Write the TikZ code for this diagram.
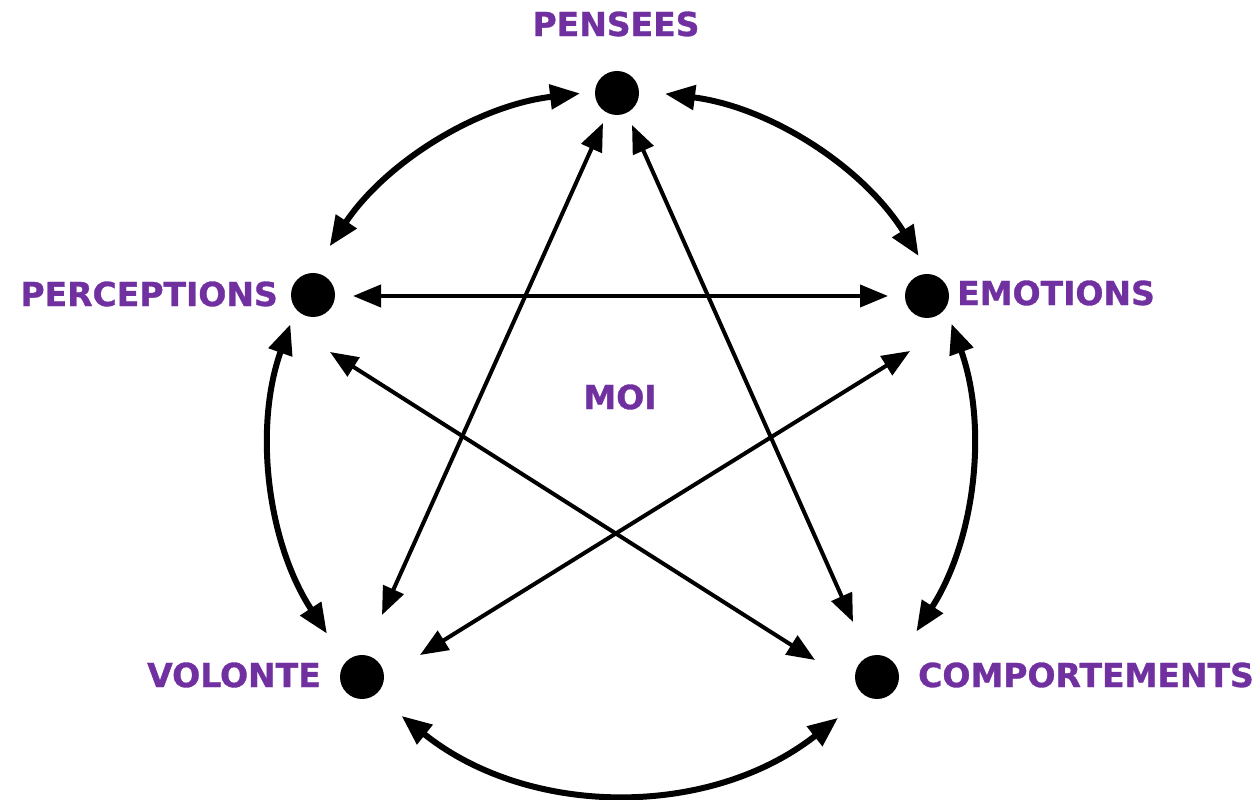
\documentclass[tikz,border=0pt]{standalone}
\usepackage{fontspec}
\setmainfont{DejaVu Sans}
\newfontfamily\lblfont{DejaVu Sans Bold}[FakeBold=1.0]
\usetikzlibrary{arrows.meta,calc}
\definecolor{moipurple}{HTML}{7030A0}
\begin{document}
\begin{tikzpicture}[x=1pt,y=1pt,
  dot/.style={circle,fill=black,inner sep=0pt,minimum size=44pt},
  lbl/.style={text=moipurple,font=\lblfont\fontsize{33}{33}\selectfont,inner sep=0pt},
  arcarrow/.style={line width=6pt,{Triangle[length=30pt,width=24pt]}-{Triangle[length=30pt,width=24pt]}},
  linearrow/.style={line width=4pt,{Triangle[length=28pt,width=22pt]}-{Triangle[length=28pt,width=22pt]}}]
\useasboundingbox (0,0) rectangle (1258,800);
\fill[white] (0,0) rectangle (1258,800);
% centre of the outer circle
\coordinate (c) at (621,358);
% dots
\node[dot] (pens) at (617,707) {};
\node[dot] (perc) at (313,505) {};
\node[dot] (emot) at (927,504) {};
\node[dot] (vol)  at (362,123) {};
\node[dot] (comp) at (877,123) {};
% labels
\node[lbl,anchor=center] (lpens) at (616,776) {PENSEES};
\node[lbl,anchor=east]   (lperc) at (278,506) {PERCEPTIONS};
\node[lbl,anchor=west]   (lemot) at (957,507) {EMOTIONS};
\node[lbl,anchor=east]   (lvol)  at (321,125) {VOLONTE};
\node[lbl,anchor=west]   (lcomp) at (918,125) {COMPORTEMENTS};
\node[lbl,anchor=center] (moi)   at (620,403) {MOI};
% outer arcs
\draw[arcarrow] ($(c)+(96.7:351)$) arc[start angle=96.7,end angle=146.1,radius=351];
\draw[arcarrow] ($(c)+(82.8:351)$) arc[start angle=82.8,end angle=32.0,radius=351];
\draw[arcarrow] ($(c)+(19.7:351)$) arc[start angle=19.7,end angle=-32.7,radius=351];
\draw[arcarrow] ($(c)+(-51.8:351)$) arc[start angle=-51.8,end angle=-128.7,radius=351];
\draw[arcarrow] ($(c)+(213.1:351)$) arc[start angle=213.1,end angle=160.4,radius=351];
% inner straight arrows
\draw[linearrow] ($(perc)+(40,-1)$) -- ($(emot)+(-39,0)$);
\draw[linearrow] ($(pens)+(-14,-30)$) -- ($(vol)+(20,62)$);
\draw[linearrow] ($(pens)+(15,-32)$) -- ($(comp)+(-24,55)$);
\draw[linearrow] ($(perc)+(17,-57)$) -- ($(comp)+(-62,17)$);
\draw[linearrow] ($(emot)+(-17,-55)$) -- ($(vol)+(58,22)$);
\end{tikzpicture}
\end{document}
